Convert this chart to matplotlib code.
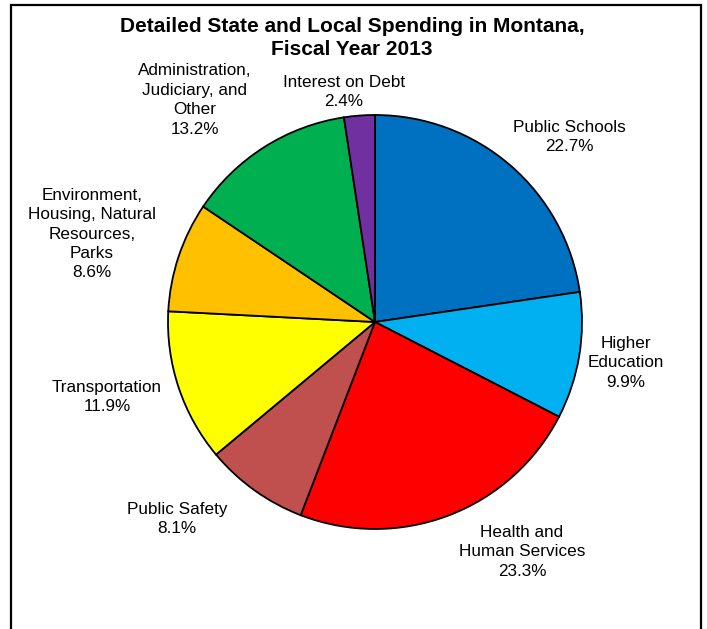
import matplotlib.pyplot as plt
from matplotlib.patches import Rectangle

plt.rcParams['font.family'] = ['Liberation Sans', 'DejaVu Sans']

# spending categories, clockwise from 12 o'clock
categories = ['Public Schools', 'Higher\nEducation', 'Health and\nHuman Services',
              'Public Safety', 'Transportation',
              'Environment,\nHousing, Natural\nResources,\nParks',
              'Administration,\nJudiciary, and\nOther', 'Interest on Debt']
shares = [22.7, 9.9, 23.3, 8.1, 11.9, 8.6, 13.2, 2.4]
colors = ['#0070C0', '#00B0F0', '#FF0000', '#C0504D',
          '#FFFF00', '#FFC000', '#00B050', '#7030A0']

# label centres in pie-radius units
label_pos = [(0.937, 0.894), (1.213, -0.198), (0.710, -1.111), (-0.957, -0.952),
             (-1.295, -0.362), (-1.367, 0.425), (-0.870, 1.072), (-0.150, 1.111)]

W, H = 707, 629
fig = plt.figure(figsize=(W / 100, H / 100), dpi=100)

# outer frame, open at the bottom
fig.add_artist(Rectangle((11 / W, -0.05), (701 - 11) / W, 1.05 - 5 / H,
                         transform=fig.transFigure, fill=False,
                         edgecolor='black', linewidth=1.6))

cx, cy, r = 375, 322, 207
ax = fig.add_axes([(cx - r) / W, (H - cy - r) / H, 2 * r / W, 2 * r / H])
ax.pie(shares, colors=colors, startangle=90, counterclock=False, radius=1,
       wedgeprops=dict(edgecolor='black', linewidth=1.3))
ax.set_xlim(-1, 1)
ax.set_ylim(-1, 1)
ax.set_aspect('equal')
ax.axis('off')

for name, val, (x, y) in zip(categories, shares, label_pos):
    ax.text(x, y, f'{name}\n{val:.1f}%', ha='center', va='center',
            fontsize=12.3, linespacing=1.37, clip_on=False)

fig.text(352 / W, 1 - 38 / H, 'Detailed State and Local Spending in Montana,\nFiscal Year 2013',
         ha='center', va='center', fontsize=15, fontweight='bold', linespacing=1.3)

fig.savefig('out.png', dpi=100)
